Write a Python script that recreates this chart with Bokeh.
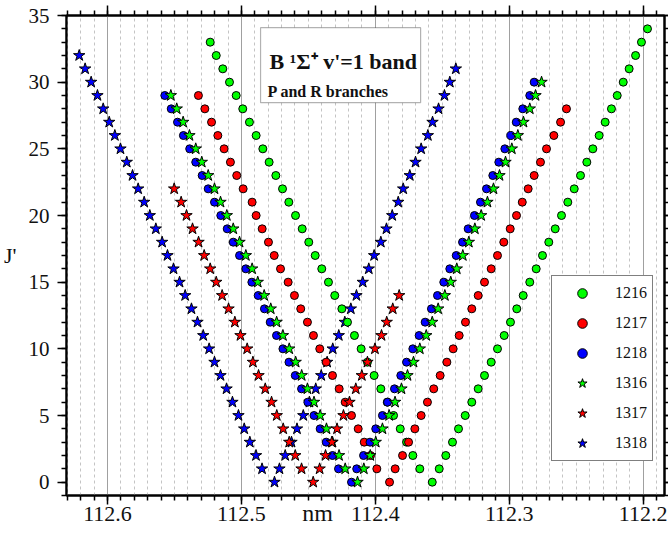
from bokeh.plotting import figure
from bokeh.models import (Range1d, LinearAxis, SingleIntervalTicker, Legend, LegendItem,
                          Label, BoxAnnotation, NumeralTickFormatter, CustomJSTickFormatter)
from bokeh.embed import file_html
from bokeh.resources import INLINE

# ---------------- data (wavelength in nm, J') ----------------
c1216_p_j = [1, 2, 3, 4, 5, 6, 7, 8, 9, 10, 11, 12, 13, 14, 15, 16, 17, 18, 19, 20, 21, 22, 23, 24, 25, 26, 27, 28, 29, 30, 31, 32, 33]
c1216_p_nm = [112.3668, 112.3720, 112.3767, 112.3814, 112.3864, 112.3911, 112.3959, 112.4009, 112.4059, 112.4106,
              112.4156, 112.4208, 112.4250, 112.4303, 112.4350, 112.4400, 112.4449, 112.4497, 112.4546, 112.4596,
              112.4646, 112.4693, 112.4743, 112.4793, 112.4840, 112.4890, 112.4940, 112.4990, 112.5039, 112.5089,
              112.5139, 112.5188, 112.5233]
c1216_r_j = [0, 1, 2, 3, 4, 5, 6, 7, 8, 9, 10, 11, 12, 13, 14, 15, 16, 17, 18, 19, 20, 21, 22, 23, 24, 25, 26, 27, 28, 29, 30, 31, 32, 33, 34]
c1216_r_nm = [112.3575, 112.3523, 112.3474, 112.3424, 112.3379, 112.3329, 112.3280, 112.3232, 112.3185, 112.3135,
              112.3088, 112.3038, 112.2991, 112.2944, 112.2896, 112.2847, 112.2799, 112.2752, 112.2705, 112.2657,
              112.2610, 112.2563, 112.2515, 112.2468, 112.2421, 112.2376, 112.2329, 112.2284, 112.2237, 112.2194,
              112.2149, 112.2105, 112.2057, 112.2013, 112.1968]

c1217_p_j = [1, 2, 3, 4, 5, 6, 7, 8, 9, 10, 11, 12, 13, 14, 15, 16, 17, 18, 19, 20, 21, 22, 23, 24, 25, 26, 27, 28, 29]
c1217_p_nm = [112.3989, 112.4036, 112.4083, 112.4128, 112.4178, 112.4225, 112.4270, 112.4320, 112.4367, 112.4415,
              112.4462, 112.4507, 112.4557, 112.4604, 112.4651, 112.4708, 112.4755, 112.4798, 112.4845, 112.4890,
              112.4920, 112.4987, 112.5035, 112.5082, 112.5129, 112.5176, 112.5223, 112.5273, 112.5321]
c1217_r_j = [0, 1, 2, 3, 4, 5, 6, 7, 8, 9, 10, 11, 12, 13, 14, 15, 16, 17, 18, 19, 20, 21, 22, 23, 24, 25, 26, 27, 28]
c1217_r_nm = [112.3894, 112.3852, 112.3797, 112.3752, 112.3705, 112.3658, 112.3611, 112.3564, 112.3516, 112.3466,
              112.3419, 112.3374, 112.3327, 112.3280, 112.3232, 112.3185, 112.3135, 112.3088, 112.3041, 112.2993,
              112.2946, 112.2903, 112.2859, 112.2814, 112.2767, 112.2722, 112.2667, 112.2617, 112.2573]

c1218_p_j = [1, 2, 3, 4, 5, 6, 7, 8, 9, 10, 11, 12, 13, 14, 15, 16, 17, 18, 19, 20, 21, 22, 23, 24, 25, 26, 27, 28, 29]
c1218_p_nm = [112.4275, 112.4320, 112.4367, 112.4412, 112.4458, 112.4504, 112.4551, 112.4598, 112.4645, 112.4690,
              112.4738, 112.4785, 112.4828, 112.4875, 112.4922, 112.4967, 112.5014, 112.5061, 112.5106, 112.5154,
              112.5201, 112.5248, 112.5293, 112.5341, 112.5386, 112.5433, 112.5477, 112.5524, 112.5572]
c1218_r_j = [0, 1, 2, 3, 4, 5, 6, 7, 8, 9, 10, 11, 12, 13, 14, 15, 16, 17, 18, 19, 20, 21, 22, 23, 24, 25, 26, 27, 28, 29, 30]
c1218_r_nm = [112.4178, 112.4139, 112.4088, 112.4040, 112.3997, 112.3947, 112.3909, 112.3857, 112.3810, 112.3767,
              112.3720, 112.3673, 112.3628, 112.3581, 112.3536, 112.3489, 112.3444, 112.3396, 112.3349, 112.3307,
              112.3260, 112.3215, 112.3170, 112.3123, 112.3078, 112.3033, 112.2989, 112.2948, 112.2899, 112.2847,
              112.2814]

s1316_p_j = [1, 2, 3, 4, 5, 6, 7, 8, 9, 10, 11, 12, 13, 14, 15, 16, 17, 18, 19, 20, 21, 22, 23, 24, 25, 26, 27, 28, 29]
s1316_p_nm = [112.4225, 112.4271, 112.4320, 112.4365, 112.4412, 112.4458, 112.4507, 112.4550, 112.4595, 112.4643,
              112.4690, 112.4737, 112.4781, 112.4830, 112.4878, 112.4920, 112.4967, 112.5014, 112.5061, 112.5109,
              112.5156, 112.5201, 112.5248, 112.5296, 112.5341, 112.5388, 112.5435, 112.5483, 112.5527]
s1316_r_j = [0, 1, 2, 3, 4, 5, 6, 7, 8, 9, 10, 11, 12, 13, 14, 15, 16, 17, 18, 19, 20, 21, 22, 23, 24, 25, 26, 27, 28, 29, 30]
s1316_r_nm = [112.4133, 112.4086, 112.4038, 112.3997, 112.3947, 112.3897, 112.3853, 112.3805, 112.3760, 112.3715,
              112.3668, 112.3620, 112.3575, 112.3531, 112.3481, 112.3437, 112.3392, 112.3347, 112.3302, 112.3257,
              112.3210, 112.3163, 112.3118, 112.3073, 112.3028, 112.2981, 112.2936, 112.2894, 112.2847, 112.2804,
              112.2759]

s1317_p_j = [1, 2, 3, 4, 5, 6, 7, 8, 9, 10, 11, 12, 13, 14, 15, 16, 17, 18, 19, 20, 21, 22]
s1317_p_nm = [112.4551, 112.4598, 112.4643, 112.4688, 112.4736, 112.4775, 112.4822, 112.4872, 112.4914, 112.4957,
              112.5007, 112.5049, 112.5096, 112.5144, 112.5188, 112.5233, 112.5278, 112.5320, 112.5365, 112.5410,
              112.5450, 112.5502]
s1317_r_j = [0, 1, 2, 3, 4, 5, 6, 7, 8, 9, 10, 11, 12, 13, 14]
s1317_r_nm = [112.4464, 112.4416, 112.4372, 112.4325, 112.4286, 112.4238, 112.4193, 112.4146, 112.4101, 112.4059,
              112.4003, 112.3954, 112.3915, 112.3870, 112.3822]

s1318_p_j = [1, 2, 3, 4, 5, 6, 7, 8, 9, 10, 11, 12, 13, 14, 15, 16, 17, 18, 19, 20, 21, 22, 23, 24, 25, 26, 27, 28, 29, 30, 31, 32]
s1318_p_nm = [112.4846, 112.4891, 112.4937, 112.4979, 112.5022, 112.5067, 112.5111, 112.5156, 112.5201, 112.5241,
              112.5285, 112.5328, 112.5373, 112.5420, 112.5462, 112.5507, 112.5552, 112.5592, 112.5639, 112.5684,
              112.5726, 112.5771, 112.5813, 112.5856, 112.5903, 112.5945, 112.5987, 112.6032, 112.6075, 112.6122,
              112.6167, 112.6211]
s1318_r_j = [0, 1, 2, 3, 4, 5, 6, 7, 8, 9, 10, 11, 12, 13, 14, 15, 16, 17, 18, 19, 20, 21, 22, 23, 24, 25, 26, 27, 28, 29, 30, 31]
s1318_r_nm = [112.4753, 112.4716, 112.4673, 112.4626, 112.4585, 112.4538, 112.4492, 112.4445, 112.4404, 112.4360,
              112.4318, 112.4273, 112.4228, 112.4183, 112.4141, 112.4094, 112.4049, 112.4009, 112.3959, 112.3917,
              112.3874, 112.3829, 112.3792, 112.3743, 112.3700, 112.3658, 112.3608, 112.3573, 112.3528, 112.3484,
              112.3444, 112.3399]

series_labels = ["1216", "1217", "1218", "1316", "1317", "1318"]

# ---------------- figure ----------------
FONT = "Liberation Serif"
p = figure(frame_width=598, frame_height=480, output_backend="svg", toolbar_location=None,
           x_range=Range1d(112.6306, 112.1841), y_range=Range1d(-1, 35),
           min_border_left=64, min_border_top=15, min_border_right=0, min_border_bottom=20,
           background_fill_color="white", border_fill_color="white")
p.outline_line_color = "black"
p.outline_line_width = 2


def style_axis(ax, show_labels=True, tick_out=9, minor_out=5, font_size="21px", standoff=3):
    ax.axis_line_color = "black"
    ax.axis_line_width = 2
    ax.major_tick_line_color = "black"
    ax.major_tick_line_width = 1.5
    ax.minor_tick_line_color = "black"
    ax.minor_tick_line_width = 1.5
    ax.major_tick_in = 0
    ax.minor_tick_in = 0
    ax.major_tick_out = tick_out
    ax.minor_tick_out = minor_out
    if show_labels:
        ax.major_label_text_font = FONT
        ax.major_label_text_font_size = font_size
        ax.major_label_text_color = "#111111"
        ax.major_label_standoff = standoff
    else:
        ax.formatter = CustomJSTickFormatter(code="return ''")
        ax.major_label_text_font_size = "1px"
        ax.major_label_text_color = None
        ax.major_label_standoff = 0


# bottom / left axes
p.xaxis.ticker = SingleIntervalTicker(interval=0.1, num_minor_ticks=10)
p.xaxis.formatter = NumeralTickFormatter(format="0.0")
p.yaxis.ticker = SingleIntervalTicker(interval=5, num_minor_ticks=5)
style_axis(p.xaxis[0], font_size="22px", standoff=2)
style_axis(p.yaxis[0], font_size="21px", standoff=8)

# axis titles
p.xaxis.axis_label = "nm\u2003\u2003\u2003\u2003"
p.xaxis.axis_label_text_font = FONT
p.xaxis.axis_label_text_font_style = "normal"
p.xaxis.axis_label_text_font_size = "24px"
p.xaxis.axis_label_text_color = "#111111"
p.xaxis.axis_label_standoff = -24

p.yaxis.axis_label = "J'"
p.yaxis.axis_label_orientation = "horizontal"
p.yaxis.axis_label_text_font = FONT
p.yaxis.axis_label_text_font_style = "normal"
p.yaxis.axis_label_text_font_size = "22px"
p.yaxis.axis_label_text_color = "#111111"
p.yaxis.axis_label_standoff = 9

# top / right axes (ticks only)
top_ax = LinearAxis(ticker=SingleIntervalTicker(interval=0.1, num_minor_ticks=10))
right_ax = LinearAxis(ticker=SingleIntervalTicker(interval=5, num_minor_ticks=5))
style_axis(top_ax, show_labels=False, tick_out=10, minor_out=5)
style_axis(right_ax, show_labels=False, tick_out=6, minor_out=4)
p.add_layout(top_ax, "above")
p.add_layout(right_ax, "right")

# grids
p.xgrid.grid_line_color = "#a0a0a0"
p.xgrid.grid_line_width = 1
p.xgrid.minor_grid_line_color = "#c4c4c4"
p.xgrid.minor_grid_line_dash = "3 3"
p.xgrid.minor_grid_line_width = 1
p.ygrid.visible = False

# ---------------- markers ----------------
GREEN, RED, BLUE = "#00ff00", "#ff0000", "#0000ff"
CIRC = 8
STAR = 12

r1318 = p.scatter(s1318_p_nm + s1318_r_nm, s1318_p_j + s1318_r_j, marker="star", size=STAR,
                  fill_color=BLUE, line_color="black", line_width=1)
r1216 = p.scatter(c1216_p_nm + c1216_r_nm, c1216_p_j + c1216_r_j, marker="circle", size=CIRC,
                  fill_color=GREEN, line_color="black", line_width=1)
r1217 = p.scatter(c1217_p_nm + c1217_r_nm, c1217_p_j + c1217_r_j, marker="circle", size=CIRC,
                  fill_color=RED, line_color="black", line_width=1)
r1218 = p.scatter(c1218_p_nm + c1218_r_nm, c1218_p_j + c1218_r_j, marker="circle", size=CIRC,
                  fill_color=BLUE, line_color="black", line_width=1)
r1316 = p.scatter(s1316_p_nm + s1316_r_nm, s1316_p_j + s1316_r_j, marker="star", size=STAR,
                  fill_color=GREEN, line_color="black", line_width=1)
r1317 = p.scatter(s1317_p_nm + s1317_r_nm, s1317_p_j + s1317_r_j, marker="star", size=STAR,
                  fill_color=RED, line_color="black", line_width=1)

legend = Legend(items=[LegendItem(label=series_labels[0], renderers=[r1216]),
                       LegendItem(label=series_labels[1], renderers=[r1217]),
                       LegendItem(label=series_labels[2], renderers=[r1218]),
                       LegendItem(label=series_labels[3], renderers=[r1316]),
                       LegendItem(label=series_labels[4], renderers=[r1317]),
                       LegendItem(label=series_labels[5], renderers=[r1318])],
                location=(485, 34), orientation="vertical",
                glyph_width=50, glyph_height=24, label_height=24, spacing=6,
                padding=5, margin=0, label_standoff=8,
                label_text_font=FONT, label_text_font_size="16px", label_text_color="#111111",
                border_line_color="black", border_line_width=1,
                background_fill_color="white", background_fill_alpha=1)
p.add_layout(legend, "center")

# ---------------- title box ----------------
box = BoxAnnotation(left=112.4857, right=112.3662, top=34.09, bottom=28.46,
                    fill_color="white", fill_alpha=1, line_color="black", line_width=1.2)
p.add_layout(box)
p.add_layout(Label(x=112.479, y=31.54, text="B \u00b9\u03a3\u207a v'=1 band", text_font=FONT,
                   text_font_style="bold", text_font_size="22px", text_color="#111111",
                   text_baseline="alphabetic", text_align="left"))
p.add_layout(Label(x=112.4805, y=29.29, text="P and R branches", text_font=FONT,
                   text_font_style="bold", text_font_size="16px", text_color="#111111",
                   text_baseline="alphabetic", text_align="left"))

open("out.html", "w").write(file_html(p, INLINE))
